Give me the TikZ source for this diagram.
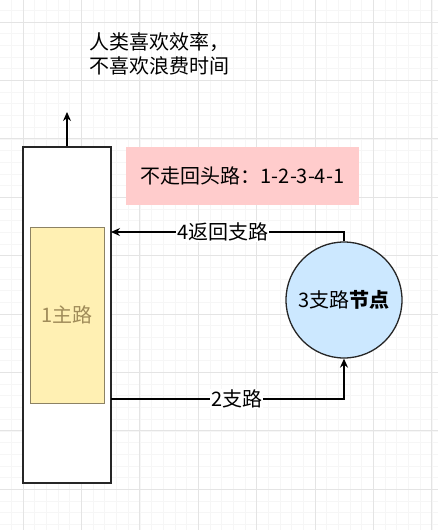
\documentclass[tikz,border=0pt]{standalone}
\usepackage{fontspec}
\setmainfont{Noto Sans CJK SC}
\usetikzlibrary{arrows.meta}
\definecolor{gridmajor}{HTML}{E4E4E4}
\definecolor{gridminor}{HTML}{F6F6F6}
\definecolor{notered}{HTML}{FFCCCC}
\definecolor{roadfill}{HTML}{FFF0B3}
\definecolor{roadline}{HTML}{8C8264}
\definecolor{roadtext}{HTML}{A08C5A}
\definecolor{nodeblue}{HTML}{CCE8FF}
\tikzset{
  box/.style={draw=black!85, line width=1.3pt, fill=white, inner sep=0pt},
  arrow/.style={line width=1.3pt, -{Stealth[length=9pt,width=8pt]}},
  txt/.style={font=\fontsize{20}{24}\selectfont},
  tag/.style={txt, fill=white, inner sep=1pt},
}
\begin{document}
\begin{tikzpicture}[x=1pt,y=-1pt]
  \useasboundingbox (0,0) rectangle (438,530);
  % grid
  \foreach \i in {-2,...,36} {
    \draw[gridminor, line width=0.6pt] (23+\i*11.68,0) -- (23+\i*11.68,530);
  }
  \foreach \i in {-1,...,45} {
    \draw[gridminor, line width=0.6pt] (0,22+\i*11.68) -- (438,22+\i*11.68);
  }
  \foreach \i in {0,...,7} {
    \draw[gridmajor, line width=0.9pt] (23+\i*58.4,0) -- (23+\i*58.4,530);
  }
  \foreach \i in {0,...,9} {
    \draw[gridmajor, line width=0.9pt] (0,22+\i*58.4) -- (438,22+\i*58.4);
  }
  % main road
  \node[box, minimum width=88pt, minimum height=336pt] (main) at (67,315) {};
  \node[txt, draw=roadline, line width=1pt, fill=roadfill, minimum width=74pt, minimum height=176pt,
        text=roadtext] (road) at (67,315) {1主路};
  % note
  \node[txt, fill=notered, minimum width=233pt, minimum height=58pt] (note) at (242.5,176) {不走回头路：1-2-3-4-1};
  \node[txt, anchor=west, align=left, inner sep=0pt] (motto) at (89,54) {人类喜欢效率，\\不喜欢浪费时间};
  % branch node
  \node[txt, circle, draw=black!85, line width=1.3pt, fill=nodeblue, minimum size=116pt] (branch) at (344,300) {3支路\textbf{节点}};
  % connectors
  \coordinate (up) at (67,112);
  \coordinate (out) at (111,399);
  \coordinate (back) at (111,232);
  \draw[arrow] (main.north) -- (up);
  \draw[arrow] (out) -| node[tag, pos=0.27] {2支路} (branch.south);
  \draw[arrow] (branch.north) |- node[tag, pos=0.76] {4返回支路} (back);
\end{tikzpicture}
\end{document}
